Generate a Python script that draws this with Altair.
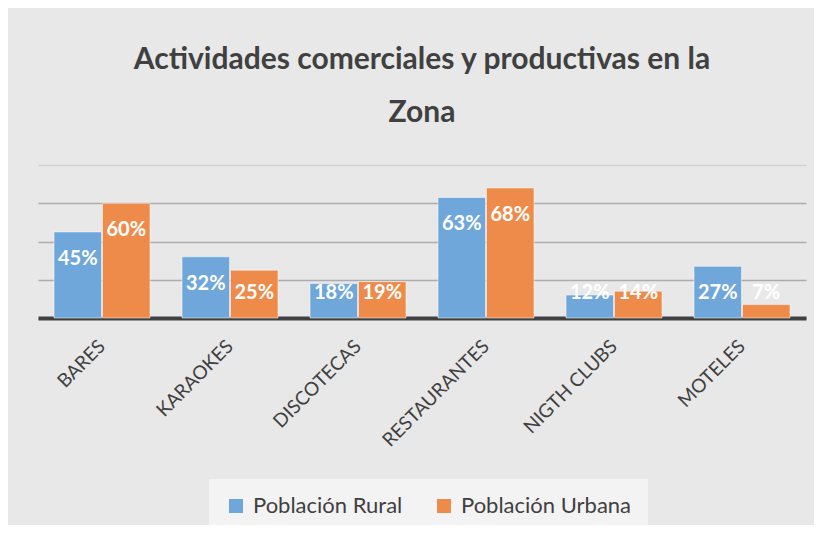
import altair as alt
import pandas as pd

categories = ["BARES", "KARAOKES", "DISCOTECAS", "RESTAURANTES", "NIGTH CLUBS", "MOTELES"]
series = ["Población Rural", "Población Urbana"]
rural = [45, 32, 18, 63, 12, 27]
urbana = [60, 25, 19, 68, 14, 7]
colors = ["#6fa7db", "#ee8b4b"]
grid_values = [0, 20, 40, 60, 80]

rows = []
for c, r, u in zip(categories, rural, urbana):
    rows.append({"cat": c, "series": series[0], "value": r})
    rows.append({"cat": c, "series": series[1], "value": u})
df = pd.DataFrame(rows)

FONT = "Lato"
TXT = "#404040"

x_axis = alt.Axis(
    title=None, labelAngle=-45, labelAlign="right", labelBaseline="middle",
    labelFont=FONT, labelFontSize=19, labelColor=TXT, ticks=False,
    domainColor="#404040", domainWidth=4, labelPadding=25,
)
x_scale = alt.Scale(paddingInner=0.25, paddingOuter=0.125)
y_axis = alt.Axis(
    title=None, labels=False, ticks=False, domain=False,
    values=grid_values, gridWidth=1.5,
    gridColor={"condition": {"test": "datum.value == 80", "value": "#d2d2d2"}, "value": "#acacac"},
)
xoff = alt.XOffset("series:N", sort=series, scale=alt.Scale(paddingInner=0.02))
y_scale = alt.Scale(domain=[0, 80])

base = alt.Chart(df)

bars = base.mark_bar(stroke="white", strokeOpacity=0.5, strokeWidth=1).encode(
    x=alt.X("cat:N", sort=categories, scale=x_scale, axis=x_axis),
    xOffset=xoff,
    y=alt.Y("value:Q", scale=y_scale, axis=y_axis),
    color=alt.Color(
        "series:N", sort=series,
        scale=alt.Scale(domain=series, range=colors),
        legend=alt.Legend(
            title=None, orient="none", legendX=171, legendY=314, direction="horizontal",
            symbolType="square", symbolSize=196, symbolStrokeWidth=0,
            labelFont=FONT, labelFontSize=22, labelColor=TXT, labelOffset=6,
            labelLimit=400, columnPadding=30, fillColor="#f3f3f3", padding=16,
        ),
    ),
)

labels = base.transform_calculate(
    label_pos="max(datum.value - 14, 13)",
    label_txt="datum.value + '%'",
).mark_text(
    font=FONT, fontSize=20, fontWeight="bold", color="white", baseline="middle", align="center",
).encode(
    x=alt.X("cat:N", sort=categories, scale=x_scale, axis=x_axis),
    xOffset=xoff,
    y=alt.Y("label_pos:Q", scale=y_scale, axis=y_axis),
    text="label_txt:N",
)

chart = alt.layer(bars, labels).properties(
    width=768,
    height=153,
    autosize=alt.AutoSizeParams(type="none"),
    padding={"left": 30, "top": 157, "right": 8, "bottom": 207},
    background="#e8e8e8",
    title=alt.TitleParams(
        ["Actividades comerciales y productivas en la", "Zona"],
        font=FONT, fontSize=30, fontWeight="bold", color=TXT,
        lineHeight=53, anchor="middle", offset=37,
    ),
).configure_view(stroke=None)

chart.save("out.html", embed_options={"renderer": "svg", "actions": False})
